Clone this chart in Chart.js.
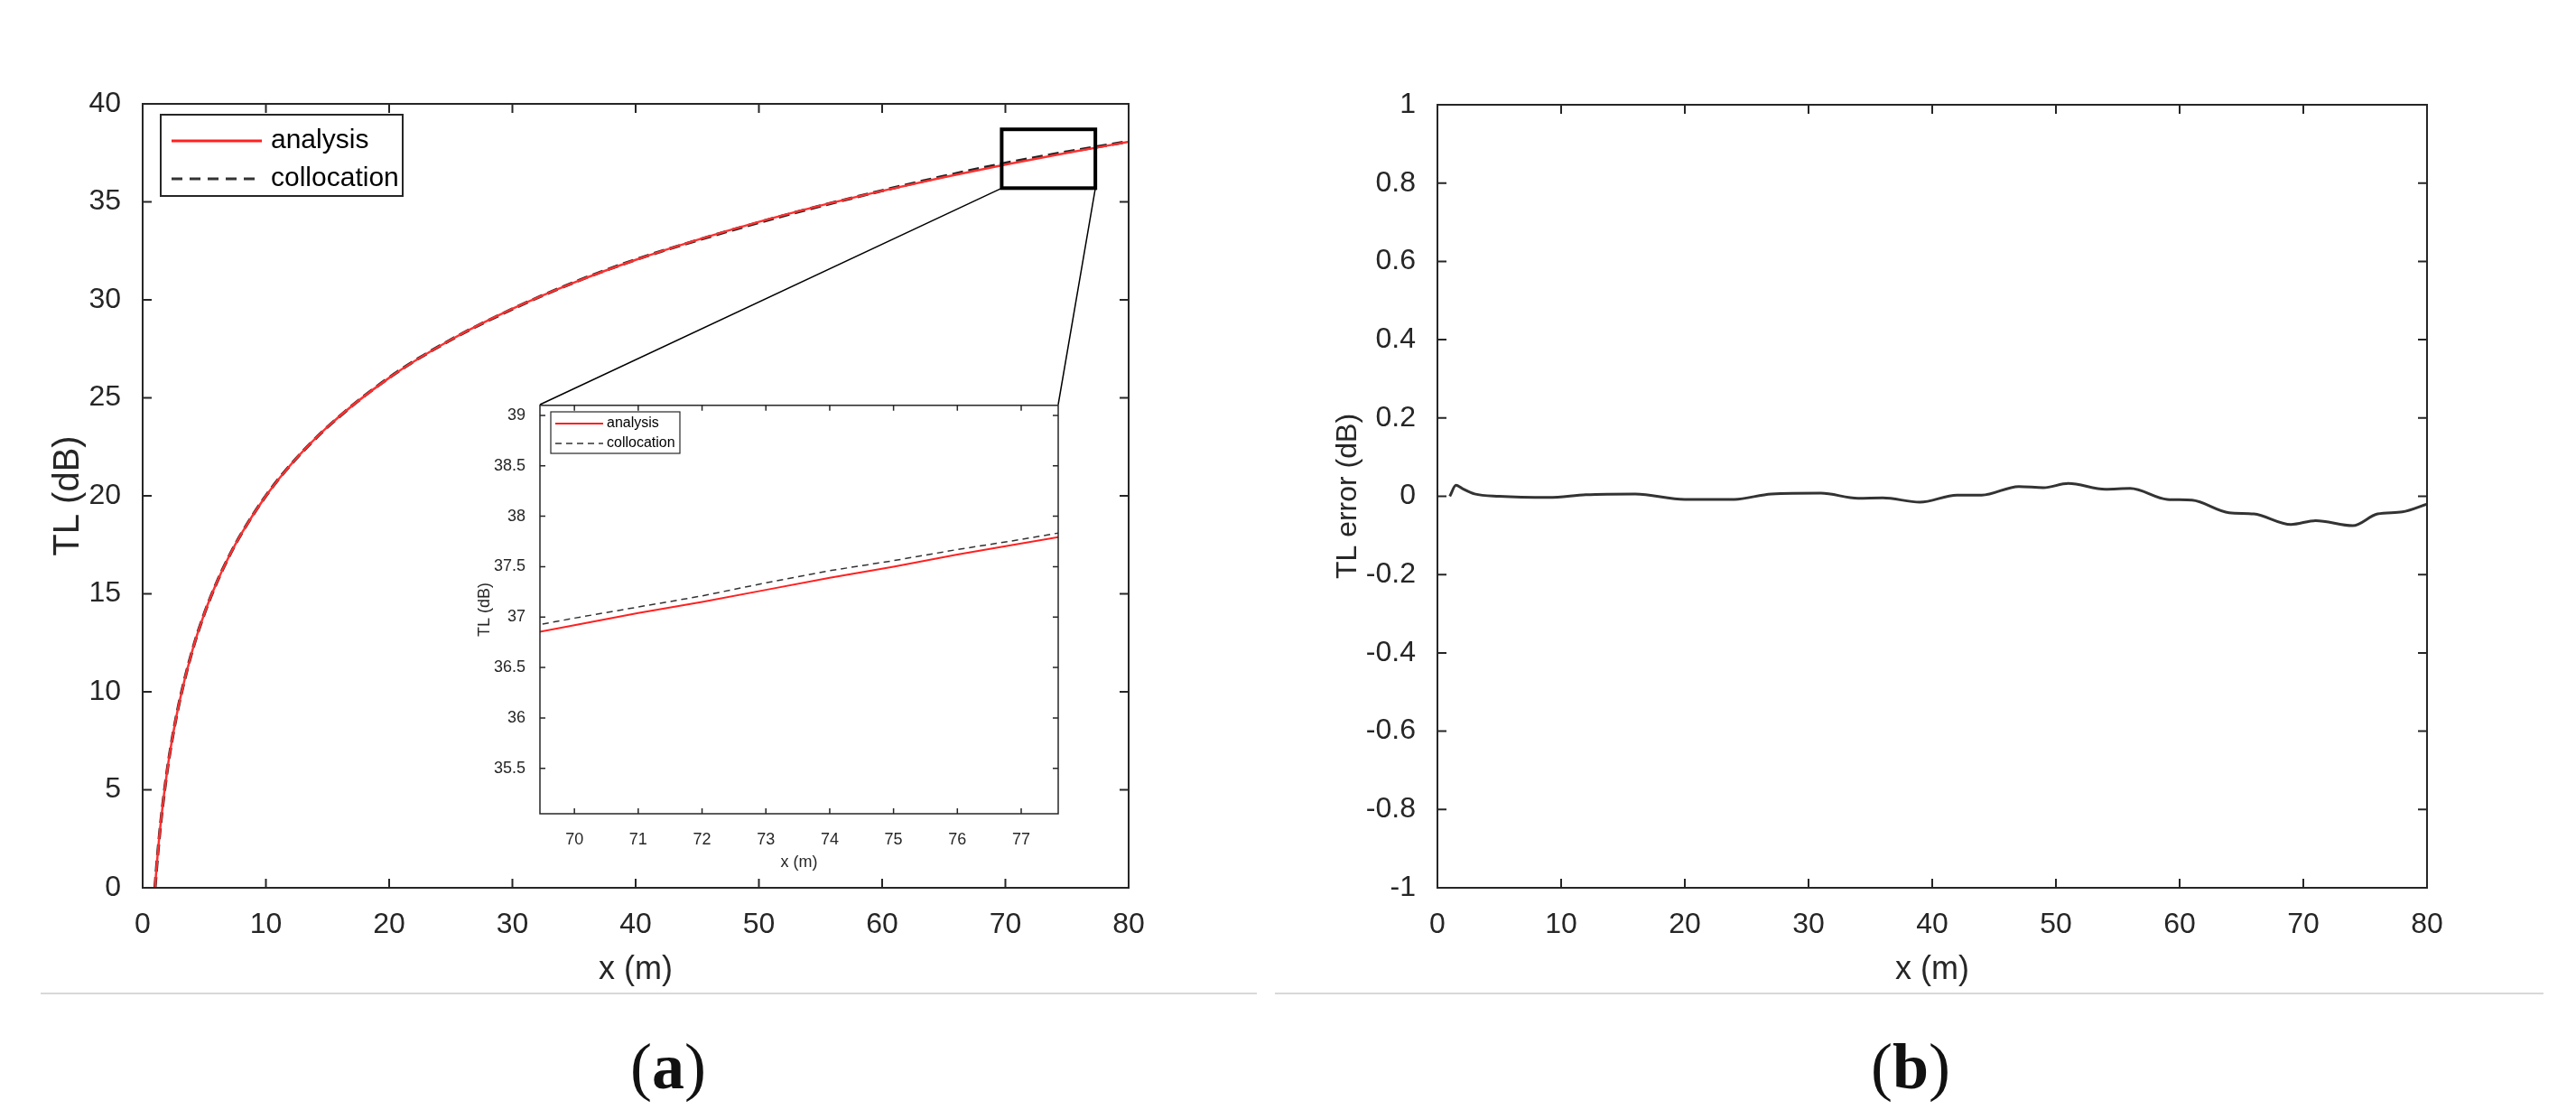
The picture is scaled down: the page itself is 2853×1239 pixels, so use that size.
<!DOCTYPE html>
<html><head><meta charset="utf-8">
<script src="https://cdn.jsdelivr.net/npm/chart.js@4"></script>
<style>
body{margin:0;background:#fff;width:2853px;height:1239px;position:relative;overflow:hidden;font-family:"Liberation Sans",Arial,sans-serif}
canvas{position:absolute}
.sep{position:absolute;height:2px;background:#d8d8d8;top:1099px}
.lab{position:absolute;top:1140px;font-family:"Liberation Serif",serif;font-size:72px;color:#111;transform:translateX(-50%)}
</style></head><body>
<canvas id="cA" width="1300" height="1100" style="left:0;top:0"></canvas>
<canvas id="cB" width="1300" height="1100" style="left:1426px;top:0"></canvas>
<canvas id="cI" width="680" height="540" style="left:520px;top:430px"></canvas>
<div class="sep" style="left:45px;width:1347px"></div>
<div class="sep" style="left:1412px;width:1405px"></div>
<div class="lab" style="left:740px">(<b>a</b>)</div>
<div class="lab" style="left:2116px">(<b>b</b>)</div>
<script>
// ---- data ----
const tlX = [1,1.2,1.5,2,2.5,3,4,5,6,7,8,10,12,15,20,25,30,35,40,45,50,55,60,65,70,75,80];
const tlAnalysis = [0,1.58,3.52,6.02,7.96,9.54,12.04,13.98,15.56,16.9,18.06,20,21.58,23.52,26.02,27.96,29.54,30.88,32.04,33.06,33.98,34.81,35.56,36.26,36.9,37.5,38.06];
const tlCollocation = [0,1.56,3.5,6.02,7.96,9.54,12.04,13.98,15.56,16.9,18.06,20,21.58,23.51,26.03,27.96,29.53,30.89,32.05,33.04,33.95,34.79,35.57,36.3,36.97,37.55,38.08];
const inX = [69,70,71,72,73,74,75,76,77,78];
const inAnalysis = [36.8,36.92,37.04,37.15,37.27,37.39,37.5,37.62,37.73,37.84];
const inCollocation = [36.87,36.99,37.10,37.21,37.34,37.46,37.56,37.67,37.77,37.88];
const errX = [1,1.5,2,3,5,9,12,16,20,24,27,31,34,36,39,42,44,47,49,51,54,56,59,61,64,66,69,71,74,76,78,80];
const errY = [0.0,0.028,0.02,0.006,0.0,-0.003,0.004,0.006,-0.008,-0.008,0.006,0.008,-0.005,-0.004,-0.015,0.003,0.003,0.025,0.022,0.033,0.018,0.02,-0.008,-0.01,-0.042,-0.045,-0.072,-0.062,-0.075,-0.045,-0.04,-0.02];
const mainXTicks = [0,10,20,30,40,50,60,70,80];
const mainYTicks = [0,5,10,15,20,25,30,35,40];
const inXTicks = [70,71,72,73,74,75,76,77];
const inYTicks = [35.5,36,36.5,37,37.5,38,38.5,39];
const errYTicks = [-1,-0.8,-0.6,-0.4,-0.2,0,0.2,0.4,0.6,0.8,1];
const zoomBox = {x0:69.7, x1:77.3, y0:35.7, y1:38.7};
const seriesNames = ['analysis','collocation'];

const pts = (xs,ys)=>xs.map((x,i)=>({x,y:ys[i]}));
const TXT='#262626';

function frame(tickLen, lw){
  return {id:'frame', afterDatasetsDraw(ch){
    const {ctx,chartArea:a,scales}=ch;
    ctx.save();ctx.strokeStyle='#262626';ctx.lineWidth=lw;
    ctx.strokeRect(a.left,a.top,a.right-a.left,a.bottom-a.top);
    ctx.beginPath();
    scales.x.ticks.forEach(t=>{const p=scales.x.getPixelForValue(t.value);
      ctx.moveTo(p,a.bottom);ctx.lineTo(p,a.bottom-tickLen);ctx.moveTo(p,a.top);ctx.lineTo(p,a.top+tickLen);});
    scales.y.ticks.forEach(t=>{const p=scales.y.getPixelForValue(t.value);
      ctx.moveTo(a.left,p);ctx.lineTo(a.left+tickLen,p);ctx.moveTo(a.right,p);ctx.lineTo(a.right-tickLen,p);});
    ctx.stroke();ctx.restore();
  }};
}
function legendPlug(box,lines,font){
  return {id:'leg',afterDraw(ch){
    const ctx=ch.ctx;ctx.save();
    ctx.fillStyle='#fff';ctx.fillRect(box.x,box.y,box.w,box.h);
    ctx.strokeStyle='#262626';ctx.lineWidth=box.lw;ctx.strokeRect(box.x,box.y,box.w,box.h);
    ctx.font=font;ctx.textBaseline='middle';
    lines.forEach(l=>{ctx.beginPath();ctx.strokeStyle=l.c;ctx.lineWidth=l.w;ctx.setLineDash(l.d);
      ctx.moveTo(l.x0,l.y);ctx.lineTo(l.x1,l.y);ctx.stroke();ctx.setLineDash([]);
      ctx.fillStyle='#000';ctx.fillText(l.t,l.tx,l.y);});
    ctx.restore();}};
}
function fixTicks(arr){return function(s){s.ticks=arr.map(v=>({value:v}));};}
function scaleX(min,max,arr,size,pad,title,tsize,h){
  return {type:'linear',min,max,afterBuildTicks:fixTicks(arr),afterFit(s){s.height=h;},
    grid:{display:false},border:{display:false},
    ticks:{color:TXT,font:{size,family:'Liberation Sans'},padding:pad,maxRotation:0,autoSkip:false,callback:v=>String(v)},
    title:{display:true,text:title,color:TXT,font:{size:tsize,family:'Liberation Sans'},padding:{top:0}}};
}
function scaleY(min,max,arr,size,pad,title,tsize,w,tpad){
  return {type:'linear',min,max,afterBuildTicks:fixTicks(arr),afterFit(s){s.width=w;},
    grid:{display:false},border:{display:false},
    ticks:{color:TXT,font:{size,family:'Liberation Sans'},padding:pad,autoSkip:false,callback:v=>String(+v.toFixed(2))},
    title:{display:true,text:title,color:TXT,font:{size:tsize,family:'Liberation Sans'},padding:{top:tpad,bottom:0}}};
}
const common={responsive:false,animation:false,devicePixelRatio:1,
  plugins:{legend:{display:false},tooltip:{enabled:false}},elements:{point:{radius:0}}};

// main chart
new Chart(document.getElementById('cA'),{type:'line',
  data:{datasets:[
    {label:seriesNames[0],data:pts(tlX,tlAnalysis),borderColor:'#ff3030',borderWidth:2.5,cubicInterpolationMode:'monotone'},
    {label:seriesNames[1],data:pts(tlX,tlCollocation),borderColor:'#222',borderWidth:3.5,borderDash:[12,6],cubicInterpolationMode:'monotone'}]},
  options:{...common,layout:{padding:{left:0,top:115,right:50,bottom:0}},
    scales:{x:scaleX(0,80,mainXTicks,32,14,'x (m)',36,117),y:scaleY(0,40,mainYTicks,32,16,'TL (dB)',40,158,52)}},
  plugins:[frame(10,2),{id:'zoom',afterDatasetsDraw(ch){
    const {ctx,scales:{x,y}}=ch;
    const l=x.getPixelForValue(zoomBox.x0),r=x.getPixelForValue(zoomBox.x1),t=y.getPixelForValue(zoomBox.y1),b=y.getPixelForValue(zoomBox.y0);
    ctx.save();ctx.strokeStyle='#000';ctx.lineWidth=4;ctx.strokeRect(l,t,r-l,b-t);
    ctx.lineWidth=1.5;ctx.beginPath();ctx.moveTo(l,b);ctx.lineTo(598,448);ctx.moveTo(r,b);ctx.lineTo(1172,448);ctx.stroke();ctx.restore();}},
    legendPlug({x:178,y:127,w:268,h:90,lw:2},[
      {t:seriesNames[0],c:'#ff2020',w:3,d:[],x0:190,x1:290,tx:300,y:156},
      {t:seriesNames[1],c:'#333',w:3,d:[12,8],x0:190,x1:290,tx:300,y:198}],'30px "Liberation Sans"')]
});

// inset
new Chart(document.getElementById('cI'),{type:'line',
  data:{datasets:[
    {label:seriesNames[0],data:pts(inX,inAnalysis),borderColor:'#ff2020',borderWidth:2},
    {label:seriesNames[1],data:pts(inX,inCollocation),borderColor:'#333',borderWidth:1.5,borderDash:[7,5]}]},
  options:{...common,layout:{padding:{left:0,top:18,right:28,bottom:0}},
    scales:{x:scaleX(69.46,77.58,inXTicks,18,10,'x (m)',18,69),y:scaleY(35.05,39.1,inYTicks,18,8,'TL (dB)',18,78,6)}},
  plugins:[{id:'bg',beforeDatasetsDraw(ch){const a=ch.chartArea;ch.ctx.save();ch.ctx.fillStyle='#fff';ch.ctx.fillRect(a.left,a.top,a.right-a.left,a.bottom-a.top);ch.ctx.restore();}},
    frame(6,1.5),
    legendPlug({x:90,y:26,w:143,h:46,lw:1.2},[
      {t:seriesNames[0],c:'#ff2020',w:2,d:[],x0:95,x1:148,tx:152,y:39},
      {t:seriesNames[1],c:'#333',w:1.5,d:[7,5],x0:95,x1:148,tx:152,y:61}],'16px "Liberation Sans"')]
});

// error chart
new Chart(document.getElementById('cB'),{type:'line',
  data:{datasets:[{label:'TL error',data:pts(errX,errY),borderColor:'#333',borderWidth:3,cubicInterpolationMode:'monotone'}]},
  options:{...common,layout:{padding:{left:0,top:116,right:38,bottom:0}},
    scales:{x:scaleX(0,80,mainXTicks,32,14,'x (m)',36,117),y:scaleY(-1,1,errYTicks,32,16,'TL error (dB)',32,166,48)}},
  plugins:[frame(10,2)]
});
</script></body></html>
